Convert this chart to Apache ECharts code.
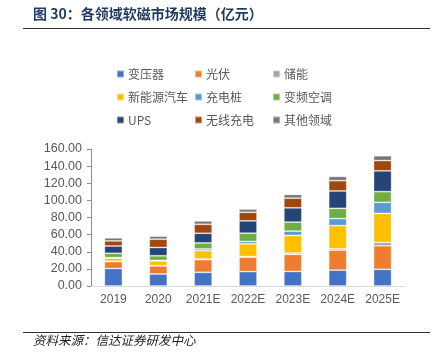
<!DOCTYPE html>
<html>
<head>
<meta charset="utf-8">
<script src="https://cdn.jsdelivr.net/npm/echarts@6/dist/echarts.min.js"></script>
<style>
html,body{margin:0;padding:0;background:#fff;}
#chart{width:442px;height:358px;}
</style>
</head>
<body>
<div id="chart"></div>
<script>
const categories = ['2019', '2020', '2021E', '2022E', '2023E', '2024E', '2025E'];
const transformer = [20.5, 14.0, 16.0, 16.8, 17.0, 18.5, 19.5];
const photovoltaic = [8.0, 9.5, 14.8, 16.8, 19.9, 23.4, 27.5];
const storage = [0.4, 0.3, 0.8, 0.9, 1.6, 1.6, 3.9];
const nev = [3.5, 5.5, 9.7, 14.8, 20.6, 27.0, 33.9];
const chargingPile = [0.8, 0.6, 2.0, 2.7, 5.0, 8.2, 12.9];
const inverterAC = [5.0, 5.4, 7.0, 9.7, 10.5, 12.0, 12.5];
const ups = [8.5, 9.7, 11.3, 14.4, 16.7, 20.3, 24.3];
const wireless = [6.0, 9.7, 10.5, 10.0, 11.3, 12.0, 12.0];
const others = [3.5, 3.5, 3.9, 3.8, 4.3, 5.0, 5.6];
const yTicks = [0, 20, 40, 60, 80, 100, 120, 140, 160];

const seriesDefs = [
  ['变压器', transformer, '#4472C4'],
  ['光伏', photovoltaic, '#ED7D31'],
  ['储能', storage, '#A5A5A5'],
  ['新能源汽车', nev, '#FFC000'],
  ['充电桩', chargingPile, '#5B9BD5'],
  ['变频空调', inverterAC, '#70AD47'],
  ['UPS', ups, '#264478'],
  ['无线充电', wireless, '#9E480E'],
  ['其他领域', others, '#767676']
];

const legendCols = [
  ['变压器', '新能源汽车', 'UPS'],
  ['光伏', '充电桩', '无线充电'],
  ['储能', '变频空调', '其他领域']
];
const legendLefts = [111, 189, 267];

const font = '"Noto Sans CJK SC", "Liberation Sans", sans-serif';

const chart = echarts.init(document.getElementById('chart'), null, {renderer: 'canvas'});
chart.setOption({
  animation: false,
  backgroundColor: '#fff',
  grid: {left: 91, right: 37, top: 149, bottom: 72, containLabel: false},
  legend: legendCols.map((col, i) => ({
    data: col,
    orient: 'vertical',
    left: legendLefts[i],
    top: 62,
    itemWidth: 7,
    itemHeight: 7,
    itemGap: 9,
    icon: 'rect',
    textStyle: {color: '#595959', fontSize: 12, fontFamily: font, lineHeight: 14, padding: [0, 0, 0, -1]}
  })),
  xAxis: {
    type: 'category',
    data: categories,
    axisLine: {lineStyle: {color: '#D9D9D9', width: 1}},
    axisTick: {show: false},
    axisLabel: {interval: 0, color: '#595959', fontSize: 12, fontFamily: '"Liberation Sans", Arial, sans-serif', margin: 8}
  },
  yAxis: {
    type: 'value',
    min: yTicks[0],
    max: yTicks[yTicks.length - 1],
    interval: 20,
    axisLine: {show: true, lineStyle: {color: '#8C8C8C', width: 1}},
    axisTick: {show: true, length: 4, lineStyle: {color: '#8C8C8C'}},
    splitLine: {show: false},
    axisLabel: {
      color: '#595959', fontSize: 12.5, margin: 9,
      fontFamily: '"Liberation Sans", Arial, sans-serif',
      formatter: v => v.toFixed(2)
    }
  },
  series: seriesDefs.map(([name, data, color]) => ({
    name: name,
    type: 'bar',
    stack: 'total',
    data: data,
    barWidth: 18,
    itemStyle: {color: color, borderColor: 'rgba(255,255,255,0.45)', borderWidth: 0.8}
  })),
  graphic: [
    {type: 'text', left: 33, top: 7, style: {text: '图 30：各领域软磁市场规模（亿元）', fill: '#1F3A5F', font: 'bold 14px ' + font}},
    {type: 'line', shape: {x1: 23, y1: 28.5, x2: 430, y2: 28.5}, style: {stroke: '#333', lineWidth: 1}},
    {type: 'line', shape: {x1: 23, y1: 332.5, x2: 430, y2: 332.5}, style: {stroke: '#333', lineWidth: 1}},
    {type: 'text', left: 33, top: 334, style: {text: '资料来源：信达证券研发中心', fill: '#222', font: 'italic 12.5px ' + font}}
  ]
});
</script>
</body>
</html>
